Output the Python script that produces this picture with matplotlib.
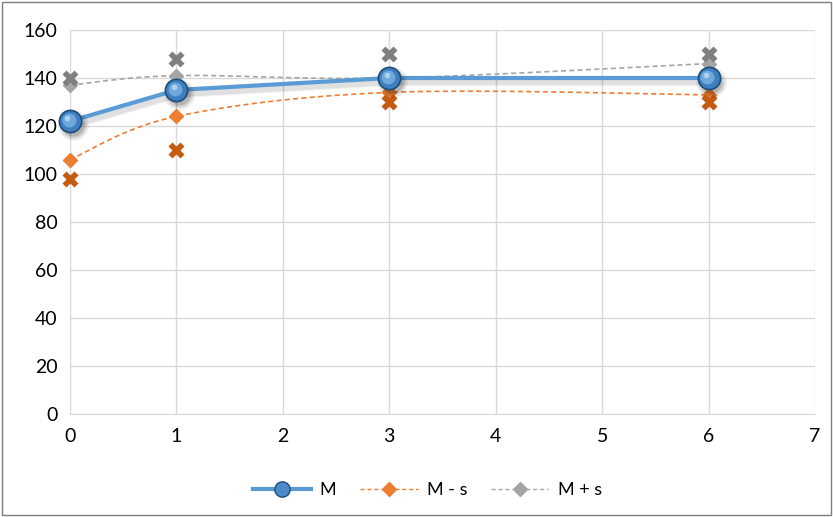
import numpy as np
import matplotlib
matplotlib.use("Agg")
import matplotlib.pyplot as plt
from matplotlib.lines import Line2D
from matplotlib.patches import Rectangle
from matplotlib.transforms import ScaledTranslation

plt.rcParams['font.family'] = ['Lato', 'DejaVu Sans']

# Time points and series values
days = [0, 1, 3, 6]
m_vals = [122, 135, 140, 140]
m_minus_s = [106, 124, 134, 133]
m_plus_s = [137, 141, 140, 146]
low_pts = [98, 110, 130, 130]
high_pts = [140, 148, 150, 150]
legend_labels = ["M", "M - s", "M + s"]

BLUE = "#5B9BD5"
ORANGE = "#ED7D31"
GRAY = "#A5A5A5"
DARK_ORANGE = "#C55A11"
DARK_GRAY = "#7F7F7F"


def smooth(xs, ys, n=40):
    """Bezier-smoothed path through the given points (Catmull-Rom tangents)."""
    xs = np.asarray(xs, float)
    ys = np.asarray(ys, float)
    px = np.concatenate([[xs[0]], xs, [xs[-1]]])
    py = np.concatenate([[ys[0]], ys, [ys[-1]]])
    outx, outy = [], []
    for i in range(1, len(px) - 2):
        p0 = np.array([px[i - 1], py[i - 1]])
        p1 = np.array([px[i], py[i]])
        p2 = np.array([px[i + 1], py[i + 1]])
        p3 = np.array([px[i + 2], py[i + 2]])
        c1 = p1 + (p2 - p0) / 6.0
        c2 = p2 - (p3 - p1) / 6.0
        t = np.linspace(0, 1, n)[:, None]
        pts = ((1 - t) ** 3) * p1 + 3 * ((1 - t) ** 2) * t * c1 + 3 * (1 - t) * t ** 2 * c2 + t ** 3 * p2
        outx.extend(pts[:, 0])
        outy.extend(pts[:, 1])
    return np.array(outx), np.array(outy)


fig = plt.figure(figsize=(8.33, 5.17), dpi=100)
ax = fig.add_axes([70 / 833, (517 - 414) / 517, (815 - 70) / 833, (414 - 30) / 517])


def shifted(dx_pt, dy_pt):
    return ax.transData + ScaledTranslation(dx_pt / 72, dy_pt / 72, fig.dpi_scale_trans)


# smoothed dashed bands
sx, sy = smooth(days, m_minus_s)
ax.plot(sx, sy, color=ORANGE, lw=1.2, ls=(0, (3, 2)), zorder=3, clip_on=False)
ax.plot(days, m_minus_s, ls="none", marker="D", ms=7, color=ORANGE, mec=ORANGE, zorder=4, clip_on=False)
sx, sy = smooth(days, m_plus_s)
ax.plot(sx, sy, color=GRAY, lw=1.2, ls=(0, (3, 2)), zorder=3, clip_on=False)
ax.plot(days, m_plus_s, ls="none", marker="D", ms=7, color=GRAY, mec=GRAY, zorder=4, clip_on=False)

# individual extremes
ax.plot(days, low_pts, ls="none", marker="X", ms=11, color=DARK_ORANGE, mec="none", zorder=4, clip_on=False)
ax.plot(days, high_pts, ls="none", marker="X", ms=11, color=DARK_GRAY, mec="none", zorder=4, clip_on=False)

# mean line with soft drop shadow
for k, a in [(3.0, 0.03), (2.0, 0.04), (1.0, 0.05)]:
    ax.plot(days, m_vals, color="black", lw=3 + k, alpha=a, transform=shifted(1.5, -3),
            zorder=4.5, clip_on=False, solid_capstyle="round")
ax.plot(days, m_vals, color=BLUE, lw=3, zorder=5, clip_on=False)
for k, a in [(6, 0.07), (3, 0.1), (0, 0.15)]:
    ax.plot(days, m_vals, ls="none", marker="o", ms=16 + k, color="black", mec="none", alpha=a,
            transform=shifted(2, -3), zorder=5.5, clip_on=False)
ax.plot(days, m_vals, ls="none", marker="o", ms=16, color="#3F7FBF", mec="#1F4E79", mew=1.2, zorder=6,
        clip_on=False)
ax.plot(days, m_vals, ls="none", marker="o", ms=10, color="#6FA8DC", mec="none", zorder=7,
        transform=shifted(-0.8, 0.8), clip_on=False)
ax.plot(days, m_vals, ls="none", marker="o", ms=4, color="#B9D7F1", mec="none", alpha=0.9, zorder=8,
        transform=shifted(-2, 2.5), clip_on=False)

ax.set_xlim(0, 7)
ax.set_ylim(0, 160)
ax.set_xticks(range(0, 8))
ax.set_yticks(range(0, 161, 20))
ax.grid(True, color="#D9D9D9", lw=1)
ax.set_axisbelow(True)
for s in ["top", "right", "left"]:
    ax.spines[s].set_visible(False)
ax.spines["bottom"].set_color("#D9D9D9")
ax.tick_params(length=0, labelsize=14, colors="#000000", pad=9)
ax.tick_params(axis="x", pad=10)

handles = [
    Line2D([], [], color=BLUE, lw=3, marker="o", ms=11, mfc="#4A8AC8", mec="#1F4E79"),
    Line2D([], [], color=ORANGE, lw=1, ls=(0, (3, 2)), marker="D", ms=7, mfc=ORANGE, mec=ORANGE),
    Line2D([], [], color=GRAY, lw=1, ls=(0, (3, 2)), marker="D", ms=7, mfc=GRAY, mec=GRAY),
]
fig.legend(handles, legend_labels, loc="center", bbox_to_anchor=(0.513, (517 - 490) / 517), ncol=3,
           frameon=False, fontsize=13, handlelength=3.2, columnspacing=1.3, handletextpad=0.5)

fig.patches.append(Rectangle((0.003, 0.003), 0.994, 0.994, transform=fig.transFigure,
                             fill=False, ec="#7F7F7F", lw=1))

fig.savefig("out.png", dpi=100)
